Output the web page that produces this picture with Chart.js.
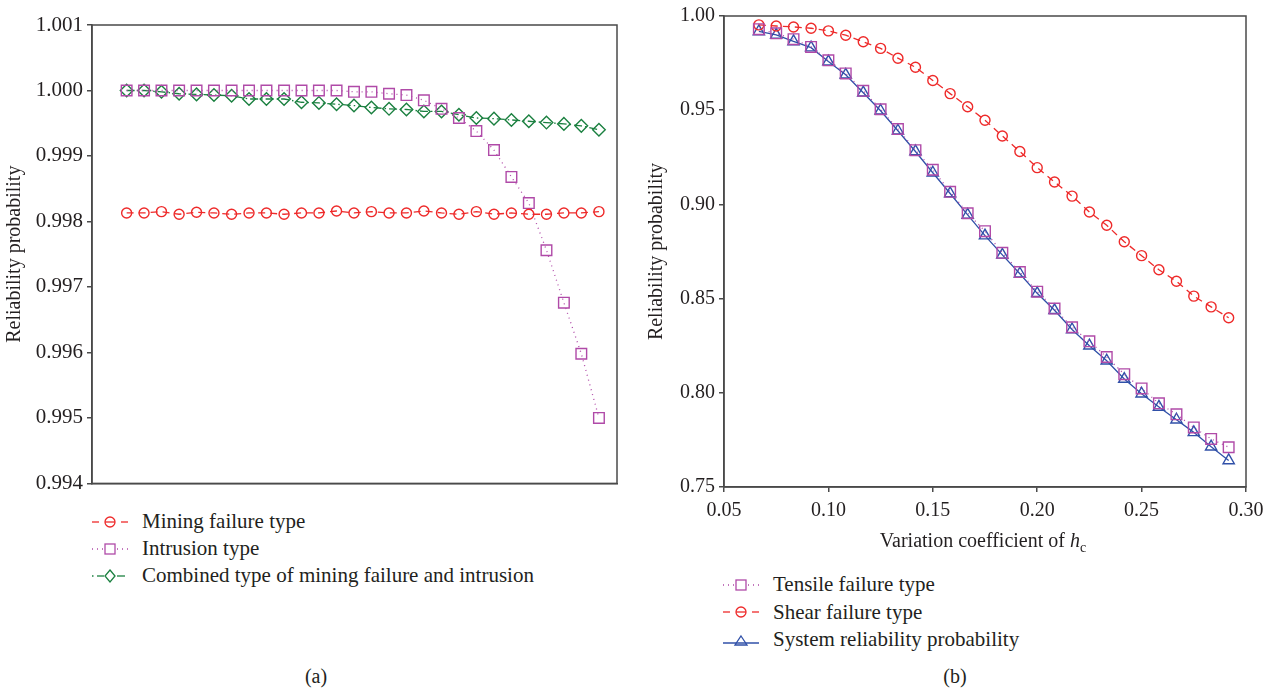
<!DOCTYPE html>
<html>
<head>
<meta charset="utf-8">
<script src="https://cdn.jsdelivr.net/npm/chart.js@4"></script>
<style>
  body { margin: 0; background: #fff; width: 1278px; height: 693px; position: relative; overflow: hidden;
         font-family: 'Liberation Serif', 'Times New Roman', serif; color: #231f20; }
  .box { position: absolute; }
  .legend { position: absolute; font-size: 21px; }
  .legend div { display: flex; align-items: center; height: 27px; }
  .legend svg { margin-right: 13px; }
  .cap { position: absolute; font-size: 20px; transform: translateX(-50%); }
</style>
</head>
<body>
<div class="box" style="left:0;top:0;width:640px;height:500px;"><canvas id="chart-a"></canvas></div>
<div class="box" style="left:640px;top:0;width:638px;height:560px;"><canvas id="chart-b"></canvas></div>

<div class="cap" style="left:983px;top:529px;">Variation coefficient of <i>h</i><sub style="font-size:14px;">c</sub></div>

<div class="legend" style="left:92px;top:508px;">
  <div><svg width="37" height="14"><line x1="0" y1="7" x2="7" y2="7" stroke="#ee2a2a" stroke-width="1.3"/><line x1="13" y1="7" x2="23" y2="7" stroke="#ee2a2a" stroke-width="1.3"/><line x1="29" y1="7" x2="36" y2="7" stroke="#ee2a2a" stroke-width="1.3"/><circle cx="18" cy="7" r="5" fill="none" stroke="#ee2a2a" stroke-width="1.3"/></svg>Mining failure type</div>
  <div><svg width="37" height="14"><line x1="0" y1="7" x2="36" y2="7" stroke="#b04aa8" stroke-width="1.3" stroke-dasharray="1,4"/><rect x="13" y="2" width="10" height="10" fill="#fff" stroke="#b04aa8" stroke-width="1.3"/></svg>Intrusion type</div>
  <div><svg width="37" height="14"><line x1="0" y1="7" x2="1.5" y2="7" stroke="#1b8040" stroke-width="1.3"/><line x1="5" y1="7" x2="12" y2="7" stroke="#1b8040" stroke-width="1.3"/><line x1="25" y1="7" x2="33" y2="7" stroke="#1b8040" stroke-width="1.3"/><polygon points="18,1 23,7 18,13 13,7" fill="none" stroke="#1b8040" stroke-width="1.3"/></svg>Combined type of mining failure and intrusion</div>
</div>

<div class="legend" style="left:723px;top:571px;">
  <div style="height:27.5px;"><svg width="37" height="14"><line x1="0" y1="7" x2="36" y2="7" stroke="#b04aa8" stroke-width="1.3" stroke-dasharray="1,4"/><rect x="13" y="2" width="10" height="10" fill="#fff" stroke="#b04aa8" stroke-width="1.3"/></svg>Tensile failure type</div>
  <div style="height:27.5px;"><svg width="37" height="14"><line x1="0" y1="7" x2="7" y2="7" stroke="#ee2a2a" stroke-width="1.3"/><line x1="13" y1="7" x2="23" y2="7" stroke="#ee2a2a" stroke-width="1.3"/><line x1="29" y1="7" x2="36" y2="7" stroke="#ee2a2a" stroke-width="1.3"/><circle cx="18" cy="7" r="5" fill="none" stroke="#ee2a2a" stroke-width="1.3"/></svg>Shear failure type</div>
  <div style="height:27.5px;"><svg width="37" height="14"><line x1="0" y1="10" x2="36" y2="10" stroke="#3050a8" stroke-width="1.3"/><polygon points="18,3 24,12 12,12" fill="none" stroke="#3050a8" stroke-width="1.3"/></svg>System reliability probability</div>
</div>

<div class="cap" style="left:316px;top:665px;">(a)</div>
<div class="cap" style="left:955px;top:665px;">(b)</div>

<script>
// Variation coefficient of hc (shared by both panels)
const hcValues = [0.0667, 0.075, 0.0833, 0.0917, 0.1, 0.1083, 0.1167, 0.125, 0.1333, 0.1417,
                  0.15, 0.1583, 0.1667, 0.175, 0.1833, 0.1917, 0.2, 0.2083, 0.2167, 0.225,
                  0.2333, 0.2417, 0.25, 0.2583, 0.2667, 0.275, 0.2833, 0.2917];

// Panel (a)
const miningFailure = [0.99813, 0.99813, 0.99815, 0.99811, 0.99814, 0.99813, 0.99811, 0.99813, 0.99813, 0.99811,
                       0.99813, 0.99813, 0.99816, 0.99813, 0.99815, 0.99813, 0.99813, 0.99816, 0.99813, 0.99811,
                       0.99815, 0.99811, 0.99813, 0.99811, 0.99811, 0.99813, 0.99813, 0.99815];
const intrusion = [1.00000, 1.00000, 1.00000, 1.00000, 1.00000, 1.00000, 1.00000, 1.00000, 1.00000, 1.00000,
                   1.00000, 1.00000, 1.00000, 0.99998, 0.99998, 0.99995, 0.99993, 0.99985, 0.99972, 0.99958,
                   0.99938, 0.99909, 0.99868, 0.99828, 0.99756, 0.99676, 0.99598, 0.99500];
const combined = [1.00000, 1.00000, 0.99998, 0.99995, 0.99994, 0.99993, 0.99992, 0.99987, 0.99987, 0.99987,
                  0.99982, 0.99981, 0.99979, 0.99977, 0.99974, 0.99972, 0.99971, 0.99968, 0.99968, 0.99963,
                  0.99958, 0.99957, 0.99955, 0.99953, 0.99951, 0.99949, 0.99946, 0.99940];

// Panel (b)
const tensileFailure = [0.9930, 0.9908, 0.9877, 0.9836, 0.9765, 0.9695, 0.9603, 0.9505, 0.9400, 0.9288,
                        0.9184, 0.9067, 0.8953, 0.8858, 0.8743, 0.8641, 0.8537, 0.8447, 0.8348, 0.8273,
                        0.8190, 0.8099, 0.8023, 0.7944, 0.7886, 0.7816, 0.7755, 0.7711];
const shearFailure = [0.9953, 0.9947, 0.9942, 0.9935, 0.9921, 0.9898, 0.9863, 0.9828, 0.9776, 0.9728,
                      0.9658, 0.9588, 0.9518, 0.9447, 0.9363, 0.9281, 0.9195, 0.9119, 0.9044, 0.8960,
                      0.8889, 0.8802, 0.8728, 0.8653, 0.8592, 0.8513, 0.8456, 0.8398];
const systemReliability = [0.9918, 0.9900, 0.9865, 0.9832, 0.9758, 0.9688, 0.9593, 0.9497, 0.9391, 0.9281,
                           0.9168, 0.9058, 0.8944, 0.8834, 0.8732, 0.8632, 0.8528, 0.8438, 0.8336, 0.8250,
                           0.8170, 0.8073, 0.7995, 0.7925, 0.7857, 0.7790, 0.7714, 0.7641];

const yTicksA = [0.994, 0.995, 0.996, 0.997, 0.998, 0.999, 1.000, 1.001];
const yTicksB = [0.75, 0.80, 0.85, 0.90, 0.95, 1.00];
const xTicksB = [0.05, 0.10, 0.15, 0.20, 0.25, 0.30];

const RED = '#ee2a2a', PURPLE = '#b04aa8', GREEN = '#1b8040', BLUE = '#3050a8';
const AXIS = '#4a4a4a';
const SERIF = "'Liberation Serif', 'Times New Roman', serif";
const TICK_A = { family: SERIF, size: 21 };
const TICK_B = { family: SERIF, size: 20 };
const TITLE = { family: SERIF, size: 20 };

Chart.defaults.color = '#231f20';

function pts(ys) {
    return hcValues.map(function(x, i) { return { x: x, y: ys[i] }; });
}

// Draws the full frame round the plot area
const framePlugin = {
    id: 'frame',
    beforeDatasetsDraw(chart) {
        const { ctx, chartArea: a } = chart;
        ctx.save();
        ctx.strokeStyle = AXIS;
        ctx.lineWidth = 1.5;
        ctx.strokeRect(a.left, a.top, a.right - a.left, a.bottom - a.top);
        ctx.restore();
    }
};

function line(label, ys, color, dash, style, radius) {
    return {
        label: label,
        data: pts(ys),
        borderColor: color,
        borderWidth: 1.3,
        borderDash: dash,
        pointStyle: style,
        pointRadius: radius,
        pointBorderColor: color,
        pointBackgroundColor: 'rgba(0,0,0,0)',
        pointBorderWidth: 1.4,
        clip: false
    };
}

function fixedTicks(values) {
    return function(scale) {
        scale.ticks = values.map(function(v) { return { value: v }; });
    };
}

// Panel (a)
new Chart(document.getElementById('chart-a'), {
    type: 'line',
    data: {
        datasets: [
            line('Mining failure type', miningFailure, RED, [7, 5], 'circle', 5),
            line('Intrusion type', intrusion, PURPLE, [1, 4], 'rect', 7.5),
            line('Combined type of mining failure and intrusion', combined, GREEN, [8, 3, 1.5, 3], 'rectRot', 6.3)
        ]
    },
    options: {
        responsive: true,
        maintainAspectRatio: false,
        animation: false,
        layout: { padding: { left: 0, top: 25, right: 23, bottom: 13 } },
        plugins: { legend: { display: false }, tooltip: { enabled: false } },
        scales: {
            x: {
                type: 'linear',
                min: 0.0502,
                max: 0.3003,
                ticks: { display: false },
                grid: { display: false },
                border: { color: AXIS, width: 1.5 },
                afterFit: function(s) { s.height = 0; }
            },
            y: {
                type: 'linear',
                min: 0.994,
                max: 1.001,
                afterBuildTicks: fixedTicks(yTicksA),
                ticks: {
                    font: TICK_A,
                    padding: 4,
                    callback: function(v) { return v.toFixed(3); }
                },
                grid: { drawOnChartArea: false, tickLength: 5, color: AXIS, lineWidth: 1.5 },
                border: { color: AXIS, width: 1.5 },
                title: { display: true, text: 'Reliability probability', font: TITLE, padding: { top: 3, bottom: 0 } },
                afterFit: function(s) { s.width = 92; }
            }
        }
    },
    plugins: [framePlugin]
});

// Panel (b)
new Chart(document.getElementById('chart-b'), {
    type: 'line',
    data: {
        datasets: [
            line('Tensile failure type', tensileFailure, PURPLE, [1, 4], 'rect', 7.5),
            line('Shear failure type', shearFailure, RED, [7, 5], 'circle', 5),
            line('System reliability probability', systemReliability, BLUE, [], 'triangle', 6.5)
        ]
    },
    options: {
        responsive: true,
        maintainAspectRatio: false,
        animation: false,
        layout: { padding: { left: 0, top: 13, right: 32, bottom: 0 } },
        plugins: { legend: { display: false }, tooltip: { enabled: false } },
        scales: {
            x: {
                type: 'linear',
                min: 0.05,
                max: 0.30,
                afterBuildTicks: fixedTicks(xTicksB),
                ticks: {
                    font: TICK_B,
                    padding: 7,
                    maxRotation: 0,
                    callback: function(v) { return v.toFixed(2); }
                },
                grid: { drawOnChartArea: false, tickLength: 5, color: AXIS, lineWidth: 1.5 },
                border: { color: AXIS, width: 1.5 },
                afterFit: function(s) { s.height = 73; }
            },
            y: {
                type: 'linear',
                min: 0.75,
                max: 1.00,
                afterBuildTicks: fixedTicks(yTicksB),
                ticks: {
                    font: TICK_B,
                    padding: 4,
                    callback: function(v) { return v.toFixed(2); }
                },
                grid: { drawOnChartArea: false, tickLength: 5, color: AXIS, lineWidth: 1.5 },
                border: { color: AXIS, width: 1.5 },
                title: { display: true, text: 'Reliability probability', font: TITLE, padding: { top: 5, bottom: 0 } },
                afterFit: function(s) { s.width = 84; }
            }
        }
    },
    plugins: [framePlugin]
});
</script>
</body>
</html>
